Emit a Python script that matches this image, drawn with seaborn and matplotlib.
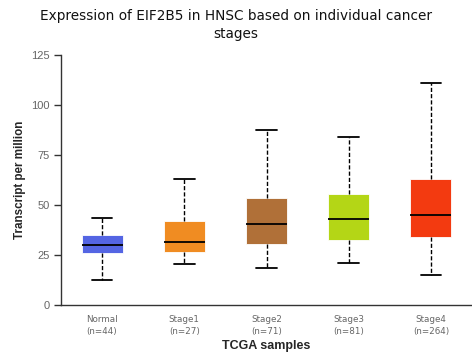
import numpy as np
import pandas as pd
import matplotlib
matplotlib.use("Agg")
import matplotlib.pyplot as plt
import seaborn as sns

# Box summaries per group: lower whisker, Q1, median, Q3, upper whisker
groups = ["Normal", "Stage1", "Stage2", "Stage3", "Stage4"]
counts = [44, 27, 71, 81, 264]
lower = [12.5, 20.5, 18.7, 21.2, 14.8]
q1 = [25.8, 26.3, 30.3, 32.7, 34.2]
median = [30.2, 31.3, 40.5, 42.8, 45.0]
q3 = [35.0, 41.8, 53.3, 55.3, 63.2]
upper = [43.7, 63.0, 87.7, 84.2, 111.0]
colors = ["#5465E3", "#F08C22", "#B07038", "#B4D616", "#F33A10"]
tick_labels = [f"{g}\n(n={n})" for g, n in zip(groups, counts)]

rows = []
for g, lo, a, m, b, hi in zip(groups, lower, q1, median, q3, upper):
    for v in (lo, a, m, b, hi):
        rows.append({"group": g, "tpm": v})
df = pd.DataFrame(rows)

sns.set_style("white")
plt.rcParams["font.family"] = ["DejaVu Sans"]

fig = plt.figure(figsize=(4.72, 3.55), dpi=100)
ax = fig.add_axes([61 / 472, 1 - 305 / 355, 1 - 61 / 472, 250 / 355])

sns.boxplot(
    data=df, x="group", y="tpm", hue="group", order=groups, hue_order=groups,
    palette=colors, saturation=1, whis=(0, 100), width=0.5, showfliers=False,
    legend=False, ax=ax, linewidth=1.0,
    boxprops=dict(edgecolor="white", linewidth=0.6),
    medianprops=dict(color="black", linewidth=1.3),
    whiskerprops=dict(color="black", linestyle=(0, (3, 1.5)), linewidth=1.0),
    capprops=dict(color="black", linewidth=1.3),
)

ax.set_xlim(-0.5, len(groups) - 0.5)
ax.set_ylim(0, 125)
ax.set_yticks([0, 25, 50, 75, 100, 125])
ax.set_yticklabels(["0", "25", "50", "75", "100", "125"],
                   family="Liberation Sans", fontsize=8, color="#666666")
ax.set_xticks(range(len(groups)))
ax.set_xticklabels(tick_labels, fontsize=6.3, color="#666666", linespacing=1.4)
ax.set_xticks(np.arange(-0.5, len(groups)), minor=True)
ax.tick_params(axis="x", which="major", length=0, pad=7)
ax.tick_params(axis="x", which="minor", length=5, color="#c8d4e4", width=1)
ax.tick_params(axis="y", length=5, color="#333333", width=1, left=True, pad=3)

for s in ["top", "right"]:
    ax.spines[s].set_visible(False)
for s in ["left", "bottom"]:
    ax.spines[s].set_color("#333333")
    ax.spines[s].set_linewidth(1.0)

ax.set_xlabel("TCGA samples", family="Liberation Sans", fontweight="bold",
              fontsize=9, labelpad=3)
ax.set_ylabel("Transcript per million", family="Liberation Sans",
              fontweight="bold", fontsize=8.4, labelpad=4)

fig.text(0.5, 1 - 25 / 355, "Expression of EIF2B5 in HNSC based on individual cancer\nstages",
         ha="center", va="center", fontsize=9.8, linespacing=1.3, color="#111111")

fig.savefig("out.png", dpi=100)
